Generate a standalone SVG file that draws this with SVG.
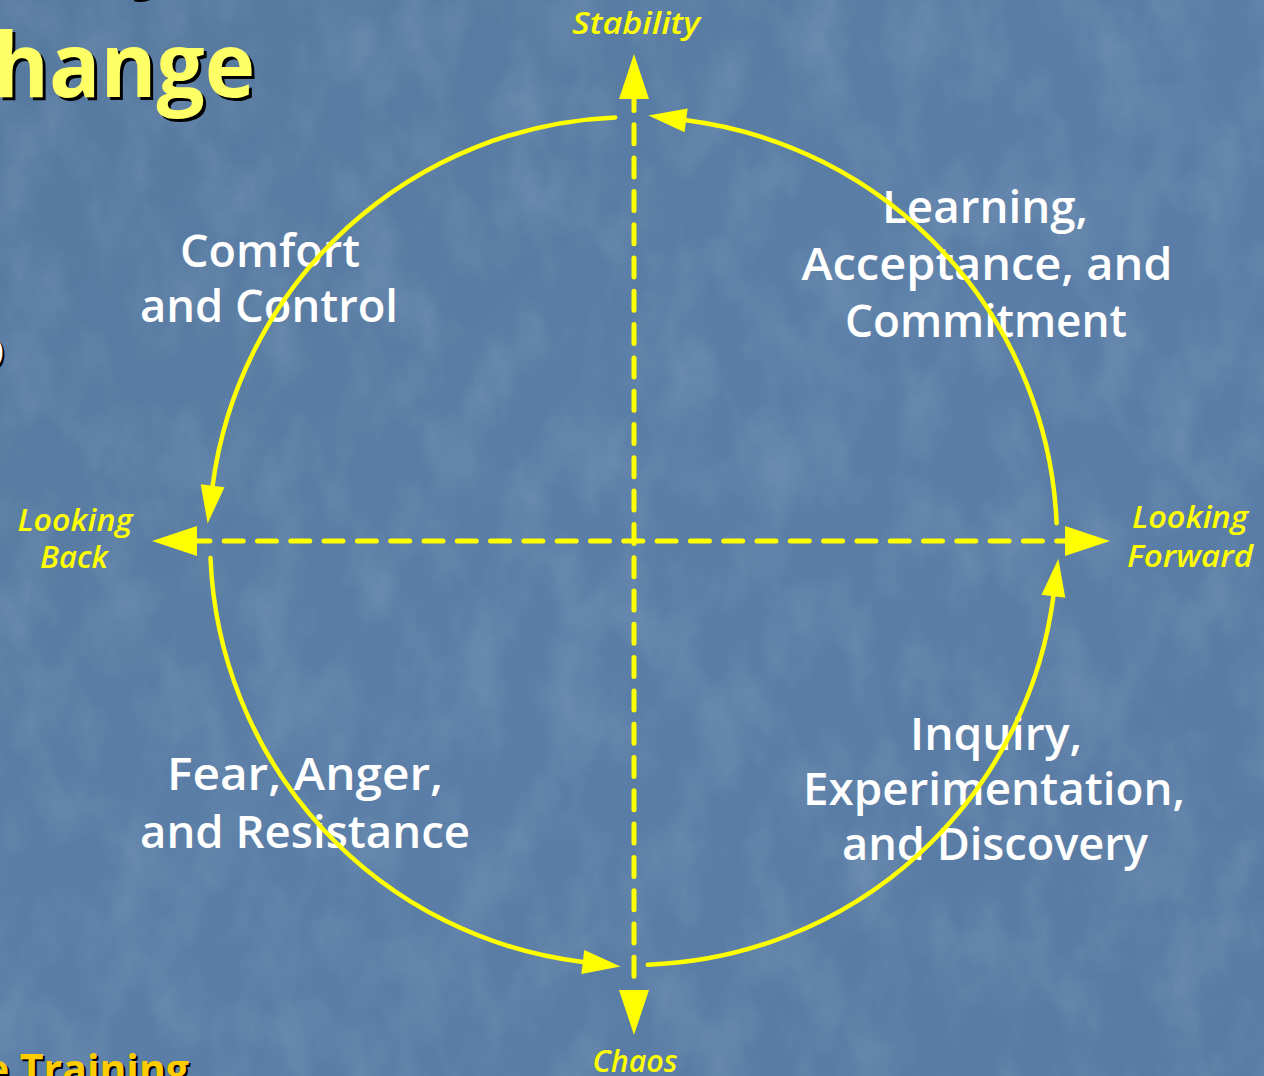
<svg xmlns="http://www.w3.org/2000/svg" width="1264" height="1076" viewBox="0 0 1264 1076">
  <style>
    .node { font-family: "Open Sans", "Noto Sans", "DejaVu Sans", sans-serif; font-weight: 600; font-size: 46px; fill: #ffffff; text-anchor: middle; }
    .axislbl { font-family: "Open Sans", "Noto Sans", "DejaVu Sans", sans-serif; font-style: italic; font-weight: 600; font-size: 30px; fill: #ffff00; text-anchor: middle; }
    .axis { fill: none; stroke: #ffff00; stroke-width: 5; stroke-linecap: round; stroke-dasharray: 19 14.3; }
    .arc { fill: none; stroke: #ffff00; stroke-width: 4.5; stroke-linecap: round; }
    .title { font-family: "Open Sans", "Noto Sans", "DejaVu Sans", sans-serif; font-weight: 700; }
  </style>
  <defs>
    <marker id="axisHead" markerUnits="userSpaceOnUse" markerWidth="48" markerHeight="32" refX="0" refY="15" orient="auto-start-reverse" overflow="visible">
      <path d="M0,0 L45,15 L0,30 Z" fill="#ffff00"/>
    </marker>
    <marker id="arcHead" markerUnits="userSpaceOnUse" markerWidth="40" markerHeight="26" refX="0" refY="12" orient="auto" overflow="visible">
      <path d="M0,0 L38,12 L0,24 Z" fill="#ffff00"/>
    </marker>
    <filter id="tex" x="0" y="0" width="100%" height="100%">
      <feTurbulence type="fractalNoise" baseFrequency="0.02 0.012" numOctaves="4" seed="7"/>
      <feColorMatrix type="matrix" values="0 0 0 0 1  0 0 0 0 1  0 0 0 0 1  0.5 0 0 0 -0.2"/>
    </filter>
    <linearGradient id="bg" x1="0" y1="0" x2="1" y2="1">
      <stop offset="0" stop-color="#56799f"/>
      <stop offset="0.5" stop-color="#5a7ea7"/>
      <stop offset="1" stop-color="#587ba4"/>
    </linearGradient>
  </defs>

  <rect id="background" x="0" y="0" width="1264" height="1076" fill="url(#bg)"/>
  <rect x="0" y="0" width="1264" height="1076" filter="url(#tex)" opacity="0.45"/>

  <g id="title-fragments">
    <text class="title" x="131" y="-20" font-size="90" fill="#000000">y</text>
    <text class="title" x="128" y="-23" font-size="90" fill="#ffff66">y</text>
    <text class="title" x="-4" y="100" font-size="90" fill="#000000" textLength="262" lengthAdjust="spacingAndGlyphs">hange</text>
    <text class="title" x="-7" y="97" font-size="90" fill="#ffff66" textLength="262" lengthAdjust="spacingAndGlyphs">hange</text>
    <text class="title" x="-4" y="363" font-size="28" fill="#000000">)</text>
    <text class="title" x="-6" y="361" font-size="28" fill="#ffffff">)</text>
    <text class="title" x="191" y="1086" font-size="41" fill="#000000" text-anchor="end">e Training</text>
    <text class="title" x="189" y="1084" font-size="41" fill="#ffcc00" text-anchor="end">e Training</text>
  </g>

  <g id="node-comfort">
    <text class="node" x="270" y="267" textLength="180" lengthAdjust="spacingAndGlyphs">Comfort</text>
    <text class="node" x="269" y="322" textLength="258" lengthAdjust="spacingAndGlyphs">and Control</text>
  </g>
  <g id="node-learning">
    <text class="node" x="985" y="223" textLength="206" lengthAdjust="spacingAndGlyphs">Learning,</text>
    <text class="node" x="987" y="280" textLength="371" lengthAdjust="spacingAndGlyphs">Acceptance, and</text>
    <text class="node" x="986" y="337" textLength="282" lengthAdjust="spacingAndGlyphs">Commitment</text>
  </g>
  <g id="node-fear">
    <text class="node" x="305" y="790" textLength="276" lengthAdjust="spacingAndGlyphs">Fear, Anger,</text>
    <text class="node" x="305" y="848" textLength="330" lengthAdjust="spacingAndGlyphs">and Resistance</text>
  </g>
  <g id="node-inquiry">
    <text class="node" x="996" y="750" textLength="172" lengthAdjust="spacingAndGlyphs">Inquiry,</text>
    <text class="node" x="994" y="805" textLength="382" lengthAdjust="spacingAndGlyphs">Experimentation,</text>
    <text class="node" x="995" y="860" textLength="306" lengthAdjust="spacingAndGlyphs">and Discovery</text>
  </g>

  <g id="label-stability"><text class="axislbl" x="636" y="34" textLength="128" lengthAdjust="spacingAndGlyphs">Stability</text></g>
  <g id="label-chaos"><text class="axislbl" x="635" y="1072" textLength="85" lengthAdjust="spacingAndGlyphs">Chaos</text></g>
  <g id="label-looking-back">
    <text class="axislbl" x="75" y="531" textLength="115" lengthAdjust="spacingAndGlyphs">Looking</text>
    <text class="axislbl" x="74" y="568" textLength="68" lengthAdjust="spacingAndGlyphs">Back</text>
  </g>
  <g id="label-looking-forward">
    <text class="axislbl" x="1190" y="528" textLength="116" lengthAdjust="spacingAndGlyphs">Looking</text>
    <text class="axislbl" x="1190" y="567" textLength="126" lengthAdjust="spacingAndGlyphs">Forward</text>
  </g>

  <g id="connectors">
    <line class="axis" x1="634" y1="99" x2="634" y2="990" stroke-dashoffset="7.5" marker-start="url(#axisHead)" marker-end="url(#axisHead)"/>
    <line class="axis" x1="197" y1="541" x2="1065" y2="541" stroke-dashoffset="6.1" marker-start="url(#axisHead)" marker-end="url(#axisHead)"/>
    <path class="arc" d="M1056.6,523.2 A424,424 0 0 0 686.1,120.3" marker-end="url(#arcHead)"/>
    <path class="arc" d="M615.2,117.4 A424,424 0 0 0 212.6,485.7" marker-end="url(#arcHead)"/>
    <path class="arc" d="M210.5,558 A424,424 0 0 0 582.8,962" marker-end="url(#arcHead)"/>
    <path class="arc" d="M647.8,964.7 A424,424 0 0 0 1053.4,596.3" marker-end="url(#arcHead)"/>
  </g>
</svg>
